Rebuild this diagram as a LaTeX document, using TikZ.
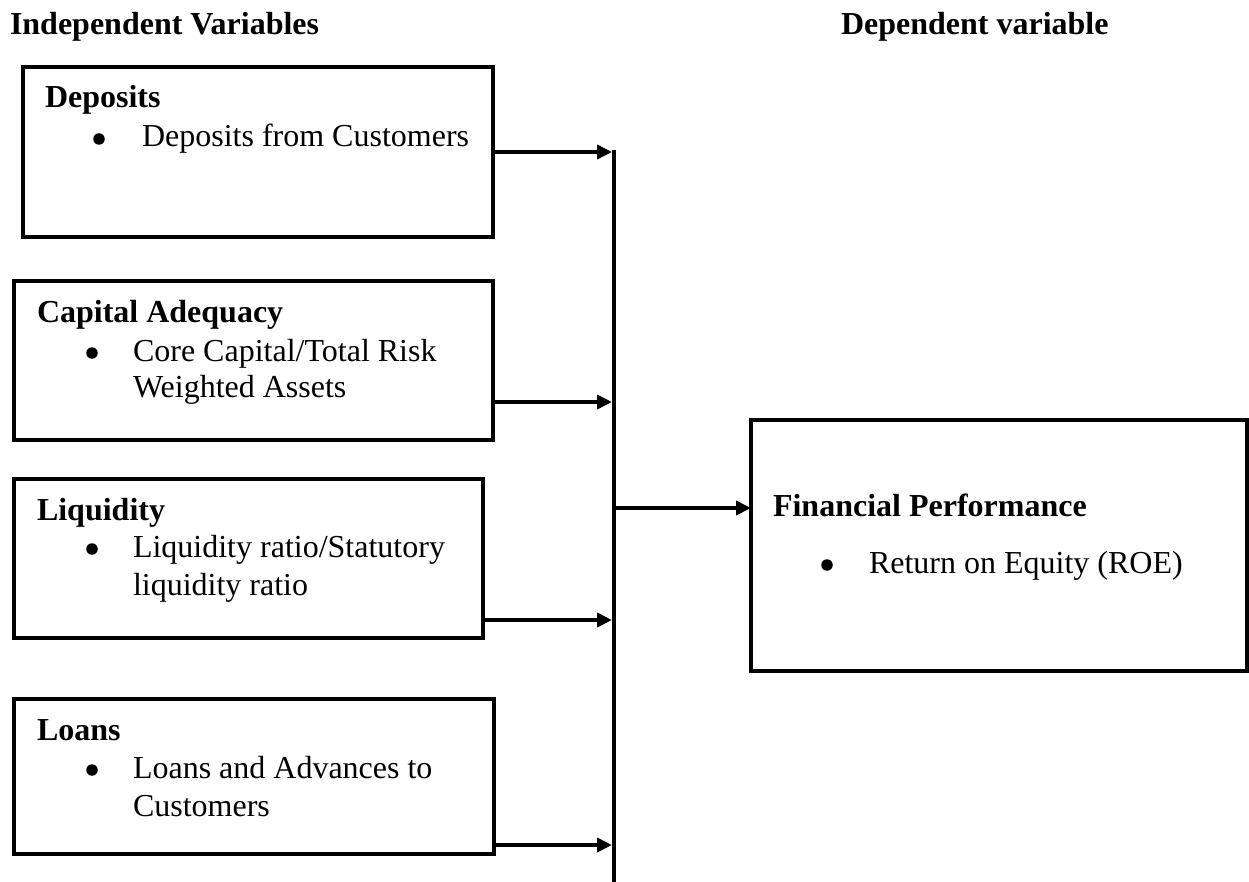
\documentclass[tikz,border=0pt]{standalone}
\usepackage{fontspec}
\setmainfont{Liberation Serif}
\usetikzlibrary{arrows.meta}
\begin{document}
\begin{tikzpicture}[x=1pt,y=-1pt,
  box/.style={draw, line width=4pt, rectangle, inner sep=0pt, outer sep=0pt, anchor=north west},
  lbl/.style={anchor=base west, inner sep=0pt, outer sep=0pt, font=\fontsize{32}{38}\selectfont},
  hd/.style={anchor=base west, inner sep=0pt, outer sep=0pt, font=\fontsize{32}{38}\selectfont\bfseries},
  bul/.style={circle, fill=black, draw=none, inner sep=0pt, minimum size=11.5pt},
  arr/.style={-{Triangle[length=15pt,width=14pt]}, line width=4pt}]
\useasboundingbox (0,0) rectangle (1249,882);

% titles
\node[hd] (t1) at (10,35) {Independent Variables};
\node[hd] (t2) at (841,35) {Dependent variable};

% boxes
\node[box, minimum width=470pt, minimum height=170pt] (dep) at (23,67) {};
\node[box, minimum width=479pt, minimum height=159pt] (cap) at (14,281) {};
\node[box, minimum width=469pt, minimum height=159pt] (liq) at (14,479) {};
\node[box, minimum width=480pt, minimum height=155pt] (loan) at (14,699) {};
\node[box, minimum width=496pt, minimum height=251pt] (fin) at (751,420) {};

% deposits text
\node[hd] (depH) at (45,108) {Deposits};
\node[bul] (depB) at (99,139) {};
\node[lbl] (depL) at (142,147) {Deposits from Customers};

% capital text
\node[hd] (capH) at (37,323) {Capital Adequacy};
\node[bul] (capB) at (92,353) {};
\node[lbl] (capL1) at (133,361) {Core Capital/Total Risk};
\node[lbl] (capL2) at (133,397) {Weighted Assets};

% liquidity text
\node[hd] (liqH) at (37,520) {Liquidity};
\node[bul] (liqB) at (92,549) {};
\node[lbl] (liqL1) at (133,557) {Liquidity ratio/Statutory};
\node[lbl] (liqL2) at (133,595) {liquidity ratio};

% loans text
\node[hd] (loanH) at (37,740) {Loans};
\node[bul] (loanB) at (92,770) {};
\node[lbl] (loanL1) at (133,778) {Loans and Advances to};
\node[lbl] (loanL2) at (133,816) {Customers};

% financial text
\node[hd] (finH) at (773,516) {Financial Performance};
\node[bul] (finB) at (827,565) {};
\node[lbl] (finL) at (869,573) {Return on Equity (ROE)};

% vertical bar
\coordinate (bartop) at (614,150);
\coordinate (barbot) at (614,882);
\draw[line width=4pt] (bartop) -- (barbot);

% junction points
\coordinate (j1) at (612,152);
\coordinate (j2) at (612,402);
\coordinate (j3) at (612,620);
\coordinate (j4) at (612,845);
\coordinate (jm) at (614,508);

\draw[arr] (dep.east |- j1) -- (j1);
\draw[arr] (cap.east |- j2) -- (j2);
\draw[arr] (liq.east |- j3) -- (j3);
\draw[arr] (loan.east |- j4) -- (j4);
\draw[arr] (jm) -- (fin.west |- jm);
\end{tikzpicture}
\end{document}
